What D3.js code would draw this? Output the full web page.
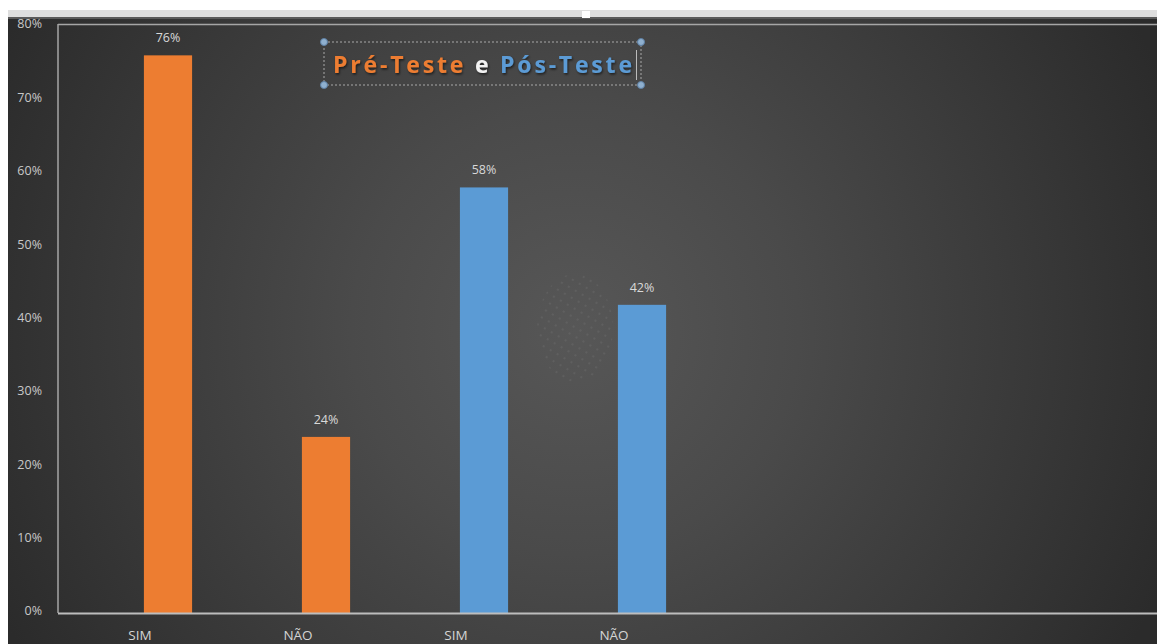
<!DOCTYPE html>
<html>
<head>
<meta charset="utf-8">
<script src="https://cdn.jsdelivr.net/npm/d3@7"></script>
<style>
  html, body { margin: 0; padding: 0; background: #ffffff; }
  svg { display: block; }
</style>
</head>
<body>
<svg id="chart" width="1157" height="644"></svg>
<script>
// Category labels, groups and percentages (as fractions)
const categories = ["SIM", "NÃO", "SIM", "NÃO"];
const groups = ["pre", "pre", "pos", "pos"];
const values = [0.76, 0.24, 0.58, 0.42];
const yTicks = [0, 0.1, 0.2, 0.3, 0.4, 0.5, 0.6, 0.7, 0.8];
const titleParts = [
  { text: "Pré-Teste", group: "pre" },
  { text: " e ", group: "sep" },
  { text: "Pós-Teste", group: "pos" }
];

const colors = { pre: "#ED7D31", pos: "#5B9BD5", sep: "#f2f2f2" };

const W = 1157, H = 644;
const svg = d3.select("#chart");
const defs = svg.append("defs");

// Background: dark radial gradient, lighter toward the middle
const grad = defs.append("radialGradient")
  .attr("id", "bg")
  .attr("gradientUnits", "userSpaceOnUse")
  .attr("cx", 575).attr("cy", 330).attr("r", 640);
grad.append("stop").attr("offset", 0).attr("stop-color", "#575757");
grad.append("stop").attr("offset", 0.35).attr("stop-color", "#4a4a4a");
grad.append("stop").attr("offset", 0.75).attr("stop-color", "#373737");
grad.append("stop").attr("offset", 1).attr("stop-color", "#2b2b2b");

// Small dot pattern for the faint dotted disc
const pat = defs.append("pattern")
  .attr("id", "dots").attr("patternUnits", "userSpaceOnUse")
  .attr("width", 8).attr("height", 8)
  .attr("patternTransform", "rotate(30)");
pat.append("circle").attr("cx", 4).attr("cy", 4).attr("r", 0.7).attr("fill", "#8a8a8a");

const shadow = defs.append("filter").attr("id", "tshadow")
  .attr("x", "-10%").attr("y", "-30%").attr("width", "120%").attr("height", "160%");
shadow.append("feDropShadow").attr("dx", 1).attr("dy", 1.5).attr("stdDeviation", 1)
  .attr("flood-color", "#000").attr("flood-opacity", 0.6);

// Page strip above the chart
svg.append("rect").attr("x", 0).attr("y", 0).attr("width", W).attr("height", H).attr("fill", "#ffffff");
svg.append("rect").attr("x", 8).attr("y", 10).attr("width", W - 8).attr("height", 7).attr("fill", "#dedede");
svg.append("rect").attr("x", 8).attr("y", 17).attr("width", W - 8).attr("height", H - 17).attr("fill", "url(#bg)");
svg.append("rect").attr("x", 8).attr("y", 17).attr("width", W - 8).attr("height", 2).attr("fill", "#5a5a5a");
svg.append("rect").attr("x", 582).attr("y", 11).attr("width", 8).attr("height", 7).attr("fill", "#ffffff");

// Scales
const plot = { left: 58, right: W, top: 26, bottom: 613 };
const y = d3.scaleLinear().domain([0, 0.8]).range([plot.bottom, plot.top]);
const x = d3.scaleBand()
  .domain(d3.range(categories.length))
  .range([89, 89 + 158 * categories.length])
  .padding(0);
const barW = x.bandwidth() * 0.305;

// Faint dotted disc in the middle of the plot
svg.append("ellipse")
  .attr("cx", 575).attr("cy", 328).attr("rx", 38).attr("ry", 54)
  .attr("fill", "url(#dots)").attr("opacity", 0.5);

// Plot frame: top line, left axis line, baseline
svg.append("line").attr("x1", plot.left).attr("x2", W).attr("y1", 24.5).attr("y2", 24.5)
  .attr("stroke", "#a6a6a6").attr("stroke-width", 1.5);
svg.append("line").attr("x1", plot.left).attr("x2", plot.left).attr("y1", 24).attr("y2", plot.bottom)
  .attr("stroke", "#a6a6a6").attr("stroke-width", 1.5);

// Bars
svg.append("g").selectAll("rect")
  .data(values)
  .join("rect")
  .attr("x", (d, i) => x(i) + x.bandwidth() / 2 - barW / 2)
  .attr("y", d => y(d))
  .attr("width", barW)
  .attr("height", d => y(0) - y(d))
  .attr("fill", (d, i) => colors[groups[i]]);

svg.append("line").attr("x1", plot.left).attr("x2", W).attr("y1", plot.bottom + 0.5).attr("y2", plot.bottom + 0.5)
  .attr("stroke", "#bdbdbd").attr("stroke-width", 2);

// Value labels above the bars
const fmt = d3.format(".0%");
svg.append("g").selectAll("text")
  .data(values)
  .join("text")
  .attr("x", (d, i) => x(i) + x.bandwidth() / 2)
  .attr("y", d => y(d) - 13)
  .attr("text-anchor", "middle")
  .attr("font-family", "'Open Sans', 'Noto Sans', sans-serif")
  .attr("font-size", 12.5)
  .attr("fill", "#d9d9d9")
  .text(d => fmt(d));

// Y axis labels
const yAxis = d3.axisLeft(y).tickValues(yTicks).tickFormat(fmt).tickSize(0).tickPadding(0);
const ya = svg.append("g").attr("transform", "translate(42,0)").call(yAxis);
ya.select(".domain").remove();
ya.selectAll("text")
  .attr("font-family", "'Open Sans', 'Noto Sans', sans-serif")
  .attr("font-size", 12.5)
  .attr("fill", "#c8c8c8")
  .attr("dy", "0.15em");

// Category labels
svg.append("g").selectAll("text")
  .data(categories)
  .join("text")
  .attr("x", (d, i) => x(i) + x.bandwidth() / 2 - 28)
  .attr("y", 640)
  .attr("text-anchor", "middle")
  .attr("font-family", "'Open Sans', 'Noto Sans', sans-serif")
  .attr("font-size", 13.5)
  .attr("fill", "#d4d4d4")
  .text(d => d);

// Title inside a selected text box
const box = { x: 324, y: 42, w: 317, h: 43 };
svg.append("rect")
  .attr("x", box.x).attr("y", box.y).attr("width", box.w).attr("height", box.h)
  .attr("fill", "none").attr("stroke", "#a8a8a8").attr("stroke-width", 1)
  .attr("stroke-dasharray", "2,2");
svg.append("line").attr("x1", 636.5).attr("x2", 636.5).attr("y1", 50).attr("y2", 80)
  .attr("stroke", "#bbbbbb").attr("stroke-width", 1);
const corners = [[box.x, box.y], [box.x + box.w, box.y], [box.x, box.y + box.h], [box.x + box.w, box.y + box.h]];
svg.append("g").selectAll("circle")
  .data(corners)
  .join("circle")
  .attr("cx", d => d[0]).attr("cy", d => d[1]).attr("r", 3.5)
  .attr("fill", "#8fb0cf").attr("stroke", "#5d7fa3").attr("stroke-width", 1);

const title = svg.append("text")
  .attr("x", 333).attr("y", 73)
  .attr("font-family", "'Open Sans', 'DejaVu Sans', sans-serif")
  .attr("font-weight", "bold")
  .attr("font-size", 23)
  .attr("filter", "url(#tshadow)")
  .attr("textLength", 299)
  .attr("lengthAdjust", "spacing");
title.selectAll("tspan")
  .data(titleParts)
  .join("tspan")
  .attr("fill", d => colors[d.group])
  .attr("xml:space", "preserve")
  .style("white-space", "pre")
  .text(d => d.text);
</script>
</body>
</html>
